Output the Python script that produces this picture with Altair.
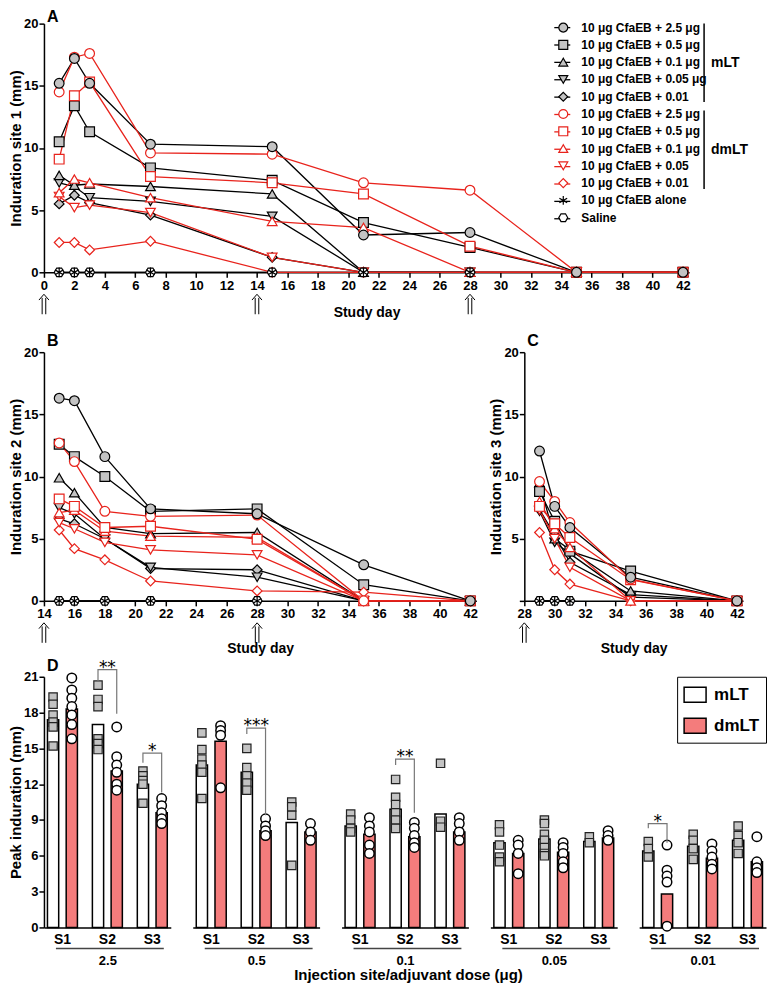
import json
import altair as alt
import pandas as pd

FONT = "Liberation Sans"
RED = "#e8231c"
GRAY = "#c3c3c3"
BAR_RED = "#f47c7c"

# ---------------- panels A-C : time courses ----------------
series_keys = ["m2.5", "m0.5", "m0.1", "m0.05", "m0.01",
               "d2.5", "d0.5", "d0.1", "d0.05", "d0.01", "alone", "saline"]
series_labels = ["10 μg CfaEB + 2.5 μg", "10 μg CfaEB + 0.5 μg", "10 μg CfaEB + 0.1 μg",
                 "10 μg CfaEB + 0.05 μg", "10 μg CfaEB + 0.01",
                 "10 μg CfaEB + 2.5 μg", "10 μg CfaEB + 0.5 μg", "10 μg CfaEB + 0.1 μg",
                 "10 μg CfaEB + 0.05", "10 μg CfaEB + 0.01",
                 "10 μg CfaEB alone", "Saline"]
ASTERISK = "M0,-1L0,1M-0.87,-0.5L0.87,0.5M-0.87,0.5L0.87,-0.5"
HEXAGON = "M-1,0L-0.5,-0.87L0.5,-0.87L1,0L0.5,0.87L-0.5,0.87Z"
ARROW = "M-0.5,-0.42L0,-1L0.5,-0.42M-0.18,-0.64L-0.18,1M0.18,-0.64L0.18,1"
series_shapes = ["circle", "square", "triangle-up", "triangle-down", "diamond"] * 2 + [ASTERISK, HEXAGON]
series_fills = [GRAY] * 5 + ["white"] * 5 + ["transparent", "white"]
series_strokes = ["black"] * 5 + [RED] * 5 + ["black", "black"]
draw_order = ["m0.01", "m0.05", "m0.1", "m0.5", "d0.01", "d0.05", "d0.1", "d0.5", "d2.5",
              "saline", "alone", "m2.5"]

days_site1 = [1, 2, 3, 7, 15, 21, 28, 35, 42]
site1 = {
    "m2.5": [15.2, 17.2, 15.2, 10.3, 10.1, 3.0, 3.2, 0, 0],
    "m0.5": [10.5, 13.4, 11.3, 8.4, 7.4, 4.0, 2.0, 0, 0],
    "m0.1": [7.8, 7.0, 7.1, 6.9, 6.3, 0, 0, 0, 0],
    "m0.05": [7.2, 6.9, 6.0, 5.7, 4.5, 0, 0, 0, 0],
    "m0.01": [5.5, 6.2, 5.6, 4.6, 1.2, 0, 0, 0, 0],
    "d2.5": [14.5, 17.3, 17.6, 9.6, 9.5, 7.2, 6.6, 0, 0],
    "d0.5": [9.1, 14.2, 15.3, 7.7, 7.2, 6.3, 2.1, 0, 0],
    "d0.1": [6.4, 7.5, 7.2, 6.0, 4.1, 3.6, 0, 0, 0],
    "d0.05": [6.1, 5.2, 5.4, 4.8, 1.2, 0, 0, 0, 0],
    "d0.01": [2.4, 2.4, 1.8, 2.5, 0, 0, 0, 0, 0],
}
zero_days_site1 = [1, 2, 3, 7, 15, 21, 28]

days_site2 = [15, 16, 18, 21, 28, 35, 42]
site2 = {
    "m2.5": [16.3, 16.1, 11.6, 7.4, 7.0, 2.9, 0],
    "m0.5": [12.6, 11.6, 10.0, 7.2, 7.4, 1.3, 0],
    "m0.1": [9.9, 8.7, 5.9, 5.4, 5.5, 0, 0],
    "m0.05": [7.5, 7.0, 5.0, 2.7, 1.9, 0, 0],
    "m0.01": [6.6, 6.2, 5.0, 2.6, 2.5, 0, 0],
    "d2.5": [12.7, 11.2, 7.2, 6.8, 6.9, 0, 0],
    "d0.5": [8.2, 7.6, 5.9, 6.0, 4.95, 0, 0],
    "d0.1": [7.1, 7.3, 5.6, 5.2, 5.1, 0, 0],
    "d0.05": [6.3, 5.8, 4.7, 4.1, 3.7, 0, 0],
    "d0.01": [5.7, 4.2, 3.3, 1.6, 0.8, 0.7, 0],
}
zero_days_site2 = [15, 16, 18, 21, 28]

days_site3 = [29, 30, 31, 35, 42]
site3 = {
    "m2.5": [12.05, 7.6, 5.9, 1.9, 0],
    "m0.5": [8.8, 6.4, 4.0, 2.4, 0],
    "m0.1": [9.5, 5.0, 4.1, 0.8, 0],
    "m0.05": [7.2, 4.7, 3.8, 0.3, 0],
    "m0.01": [7.35, 5.3, 3.1, 0.5, 0],
    "d2.5": [9.6, 8.0, 6.3, 1.75, 0],
    "d0.5": [7.6, 6.2, 5.1, 1.7, 0],
    "d0.1": [8.0, 5.8, 4.3, 0, 0],
    "d0.05": [7.3, 5.0, 2.7, 0, 0],
    "d0.01": [5.5, 2.5, 1.35, 0, 0],
}
zero_days_site3 = [29, 30, 31]

injection_days = [0, 14, 28]

# ---------------- panel D : peak induration ----------------
doses = ["2.5", "0.5", "0.1", "0.05", "0.01"]
sites = ["S1", "S2", "S3"]
types = ["mLT", "dmLT"]
mean_mlt = {"2.5": [17.4, 17.0, 12.0], "0.5": [13.6, 13.0, 8.8], "0.1": [8.5, 9.9, 9.5],
            "0.05": [7.1, 7.4, 7.2], "0.01": [6.4, 6.8, 7.3]}
mean_dmlt = {"2.5": [18.3, 13.1, 9.6], "0.5": [15.6, 8.1, 8.0], "0.1": [7.8, 7.6, 8.0],
             "0.05": [6.2, 6.3, 7.5], "0.01": [2.8, 5.8, 5.5]}
pts_mlt = {
    "2.5": [[19.3, 18.7, 17.8, 17.2, 16.8, 15.2], [20.3, 19.1, 18.5, 15.8, 15.4, 14.9], [13.1, 12.7, 12.3, 12.0, 10.4]],
    "0.5": [[16.3, 14.9, 14.1, 13.6, 13.0, 10.8], [15.0, 13.4, 12.7, 12.1, 11.5], [10.5, 10.1, 9.4, 5.2]],
    "0.1": [[9.5, 9.0, 8.3, 8.0], [12.4, 10.9, 10.3, 9.6, 9.0, 8.3], [13.75, 8.9, 8.4]],
    "0.05": [[8.6, 8.0, 6.9, 5.9, 5.5], [9.0, 8.7, 7.8, 7.3, 6.7, 6.2, 6.0], [7.6, 7.1]],
    "0.01": [[7.2, 6.6, 5.9], [7.8, 7.3, 6.6, 5.7], [8.5, 7.7, 7.1, 6.2]],
}
pts_dmlt = {
    "2.5": [[20.9, 19.9, 19.2, 18.5, 17.8, 17.0, 15.8], [16.8, 14.3, 13.6, 13.0, 12.0, 11.5], [10.8, 10.2, 9.6, 9.1, 8.7]],
    "0.5": [[16.9, 16.5, 16.1, 11.7], [9.1, 8.5, 8.1, 7.7], [8.7, 8.0, 7.3]],
    "0.1": [[9.2, 8.5, 8.0, 6.9, 6.2], [8.8, 8.3, 7.7, 7.1, 6.7], [9.2, 8.7, 8.0, 7.3]],
    "0.05": [[7.3, 6.9, 6.2, 4.5], [7.1, 6.7, 6.2, 5.5, 5.0], [8.1, 7.7, 7.3]],
    "0.01": [[6.9, 4.8, 4.3, 3.8, 0.1], [7.0, 6.4, 5.9, 5.3, 4.9], [7.6, 5.5, 5.0, 4.6]],
}
# significance brackets: dose, site, left end, top, right end, stars
brk_dose = ["2.5", "2.5", "0.5", "0.1", "0.01"]
brk_site = ["S2", "S3", "S2", "S2", "S1"]
brk_left = [20.6, 13.8, 16.2, 13.6, 8.3]
brk_top = [21.6, 14.6, 16.7, 14.1, 8.7]
brk_right = [17.9, 11.3, 9.4, 9.6, 7.1]
brk_stars = ["**", "*", "***", "**", "*"]

keys_js = json.dumps(series_keys)
labels_js = json.dumps(series_labels, ensure_ascii=False)
LABEL_EXPR = f"{labels_js}[indexof({keys_js}, datum.label)]"

PX_PER_DAY = 15.24
H_TC = 249


def one_row(**kw):
    return pd.DataFrame({k: [v] for k, v in kw.items()})


def timecourse(days, values, zero_days, x0, ytitle, letter, arrows, legend,
               zero_label=True, letter_y=-6, title_pad=13, extra=()):
    rows = []
    for key in draw_order:
        if key in ("alone", "saline"):
            for d in zero_days:
                rows.append({"day": d, "value": 0.0, "series": key})
        else:
            for d, v in zip(days, values[key]):
                rows.append({"day": d, "value": v, "series": key})
    df = pd.DataFrame(rows)
    width = round((42.4 - x0) * PX_PER_DAY)
    xs = alt.Scale(domain=[x0, 42.4], nice=False, zero=False)
    ys = alt.Scale(domain=[0, 20], nice=False)
    xaxis = alt.Axis(values=list(range(x0, 43, 2)), title="Study day", titleFontSize=14,
                     labelFontSize=13, tickSize=5, labelPadding=2, titlePadding=title_pad,
                     labelFlush=False, labelOverlap=False)
    yargs = dict(values=[0, 5, 10, 15, 20], title=ytitle, titleFontSize=15, labelFontSize=13,
                 tickSize=5, labelPadding=1, titlePadding=0, labelFlush=False)
    if not zero_label:
        yargs["labelExpr"] = "datum.value == 0 ? '' : datum.label"
    yaxis = alt.Axis(**yargs)
    X = alt.X("day:Q", scale=xs, axis=xaxis)
    Y = alt.Y("value:Q", scale=ys, axis=yaxis)
    red_keys = [k for k, c in zip(series_keys, series_strokes) if c == RED]
    df_black = df[~df["series"].isin(red_keys)]
    df_red = df[df["series"].isin(red_keys)]
    lines_black = alt.Chart(df_black).mark_line(strokeWidth=1.3, color="black").encode(
        x=X, y=Y, detail="series:N")
    lines_red = alt.Chart(df_red).mark_line(strokeWidth=1.3, color=RED).encode(
        x=X, y=Y, detail="series:N")
    pts = alt.Chart(df).mark_point(size=95, strokeWidth=1.2, opacity=1, fillOpacity=1).encode(
        x=X, y=Y,
        shape=alt.Shape("series:N", scale=alt.Scale(domain=series_keys, range=series_shapes), legend=legend),
        fill=alt.Fill("series:N", scale=alt.Scale(domain=series_keys, range=series_fills), legend=legend),
        stroke=alt.Stroke("series:N", scale=alt.Scale(domain=series_keys, range=series_strokes), legend=legend))
    arr = alt.Chart(pd.DataFrame({"day": arrows})).mark_point(
        shape=ARROW, size=400, filled=False, stroke="black", strokeWidth=1, opacity=1).encode(
        x=alt.X("day:Q", scale=xs, axis=xaxis), y=alt.value(H_TC + 32))
    lab = alt.Chart(one_row(t=letter)).mark_text(
        font=FONT, fontSize=16, fontWeight="bold", align="left", baseline="alphabetic",
        color="black").encode(x=alt.value(3), y=alt.value(letter_y), text="t:N")
    return alt.layer(lines_black, lines_red, *extra, pts, arr, lab).properties(width=width, height=H_TC)


# legend + group brackets for panel A
LEG_X, LEG_Y, LEG_STEP = 514, -2, 17.4
legend_a = alt.Legend(title=None, orient="none", legendX=LEG_X, legendY=LEG_Y, padding=0,
                      labelFont=FONT, labelFontSize=12, labelFontWeight="bold", labelColor="black",
                      labelOffset=12, symbolSize=80, symbolStrokeWidth=1.2, rowPadding=3.3,
                      labelExpr=LABEL_EXPR, labelLimit=300)
extras_a = []
# short line stubs behind the legend symbols
for i, key in enumerate(series_keys):
    yc = LEG_Y + 6 + LEG_STEP * i
    extras_a.append(alt.Chart(one_row(s=key)).mark_rule(
        strokeWidth=1.3, color=series_strokes[i]).encode(
        x=alt.value(LEG_X - 3), x2=alt.value(LEG_X + 13), y=alt.value(yc)))
for name, y1, y2 in [("mLT", 0, 78.6), ("dmLT", 87, 165.6)]:
    extras_a.append(alt.Chart(one_row(g=name)).mark_rule(strokeWidth=1.5, color="black").encode(
        x=alt.value(661), y=alt.value(y1), y2=alt.value(y2)))
    extras_a.append(alt.Chart(one_row(g=name)).mark_text(
        font=FONT, fontSize=14, fontWeight="bold", align="left", baseline="middle", color="black").encode(
        x=alt.value(668), y=alt.value((y1 + y2) / 2), text="g:N"))

panel_a = timecourse(days_site1, site1, zero_days_site1, 0, "Induration site 1 (mm)", "A",
                     injection_days, legend_a, letter_y=-2, extra=extras_a)
panel_b = timecourse(days_site2, site2, zero_days_site2, 14, "Induration site 2 (mm)", "B",
                     [14, 28], None, title_pad=21)
panel_c = timecourse(days_site3, site3, zero_days_site3, 28, "Induration site 3 (mm)", "C",
                     [28], None, zero_label=False, title_pad=21)

# ---------------- panel D ----------------
H_D = 251
W_D = 127
RECT = "M-1,-0.68L1,-0.68L1,0.68L-1,0.68Z"


def dose_group(k, dose):
    bars = pd.DataFrame([{"site": s, "type": t, "value": (mean_mlt if t == "mLT" else mean_dmlt)[dose][i]}
                         for i, s in enumerate(sites) for t in types])
    pm = pd.DataFrame([{"site": s, "type": "mLT", "value": v}
                       for i, s in enumerate(sites) for v in pts_mlt[dose][i]])
    pd_ = pd.DataFrame([{"site": s, "type": "dmLT", "value": v}
                        for i, s in enumerate(sites) for v in pts_dmlt[dose][i]])
    xs = alt.Scale(domain=sites, paddingInner=0.333, paddingOuter=0.078)
    xo = alt.Scale(domain=types, paddingInner=0.4, paddingOuter=0)
    ys = alt.Scale(domain=[0, 21], nice=False)
    xaxis = alt.Axis(title=dose, labelAngle=0, ticks=False, labelPadding=5, labelFontSize=14,
                     titleFontSize=13, titlePadding=8, domainWidth=1.5)
    if k == 0:
        yaxis = alt.Axis(values=list(range(0, 22, 3)), title="Peak induration (mm)", titleFontSize=15,
                         labelFontSize=13, tickSize=5, labelPadding=1, titlePadding=0, labelFlush=False)
    else:
        yaxis = None
    X = alt.X("site:N", scale=xs, axis=xaxis)
    XO = alt.XOffset("type:N", scale=xo)
    Y = alt.Y("value:Q", scale=ys, axis=yaxis)
    if k == len(doses) - 1:
        leg = alt.Legend(title=None, orient="top-right", offset=0, padding=6, rowPadding=8, labelOffset=7,
                         strokeColor="black", fillColor="white", symbolType=RECT, symbolSize=484,
                         symbolStrokeColor="black", symbolStrokeWidth=1.5, labelFont=FONT,
                         labelFontSize=17, labelFontWeight="bold", labelColor="black")
    else:
        leg = None
    layers = [
        alt.Chart(bars).mark_bar(stroke="black", strokeWidth=1.5).encode(
            x=X, xOffset=XO, y=Y,
            fill=alt.Fill("type:N", scale=alt.Scale(domain=types, range=["white", BAR_RED]), legend=leg)),
        alt.Chart(pm).mark_point(shape="square", filled=True, fill=GRAY, stroke="#222", strokeWidth=1.2,
                                 size=70, opacity=1).encode(x=X, xOffset=XO, y=Y),
        alt.Chart(pd_).mark_point(shape="circle", filled=True, fill="white", stroke="black",
                                  strokeWidth=1.5, size=90, opacity=1).encode(x=X, xOffset=XO, y=Y),
    ]
    brows, srows = [], []
    for j, d in enumerate(brk_dose):
        if d != dose:
            continue
        s = brk_site[j]
        for o, (t, v) in enumerate([("mLT", brk_left[j]), ("mLT", brk_top[j]),
                                    ("dmLT", brk_top[j]), ("dmLT", brk_right[j])]):
            brows.append({"id": j, "ord": o, "site": s, "type": t, "value": v})
        srows.append({"site": s, "value": brk_top[j], "stars": brk_stars[j]})
    if brows:
        layers.append(alt.Chart(pd.DataFrame(brows)).mark_line(color="#777", strokeWidth=1.2).encode(
            x=X, xOffset=XO, y=Y, detail="id:N", order="ord:Q"))
        layers.append(alt.Chart(pd.DataFrame(srows)).mark_text(
            font="DejaVu Sans", fontSize=17, dy=3, baseline="alphabetic", color="black").encode(
            x=X, y=Y, text="stars:N"))
    layers.append(alt.Chart(one_row(d=dose)).mark_rule(color="#444", strokeWidth=1.5).encode(
        x=alt.value(12), x2=alt.value(120), y=alt.value(H_D + 21)))
    if k == 0:
        layers.append(alt.Chart(one_row(t="D")).mark_text(
            font=FONT, fontSize=16, fontWeight="bold", align="left", baseline="alphabetic",
            color="black").encode(x=alt.value(3), y=alt.value(-6), text="t:N"))
    return alt.layer(*layers).properties(width=W_D, height=H_D)


groups = [dose_group(k, d) for k, d in enumerate(doses)]
panel_d = alt.hconcat(*groups, spacing=22).resolve_scale(fill="independent").resolve_legend(
    fill="independent").properties(
    title=alt.TitleParams("Injection site/adjuvant dose (μg)", orient="bottom", anchor="middle",
                          fontSize=15, font=FONT, fontWeight="bold", color="black", offset=1, dx=21))

bc = alt.hconcat(panel_b, panel_c, spacing=10)
lower = alt.vconcat(bc, panel_d, spacing=2).resolve_scale(
    fill="independent", stroke="independent", shape="independent")
chart = alt.vconcat(panel_a, lower, spacing=14).resolve_scale(
    fill="independent", stroke="independent", shape="independent").properties(padding=0)

chart = chart.configure_axis(
    labelFont=FONT, titleFont=FONT, labelFontWeight="bold", titleFontWeight="bold",
    labelColor="black", titleColor="black", domainColor="black", tickColor="black",
    domainWidth=1.5, tickWidth=1.5, grid=False
).configure_view(strokeWidth=0).configure_title(font=FONT, fontWeight="bold", color="black")

chart.save("out.html", embed_options={"renderer": "svg", "actions": False})
